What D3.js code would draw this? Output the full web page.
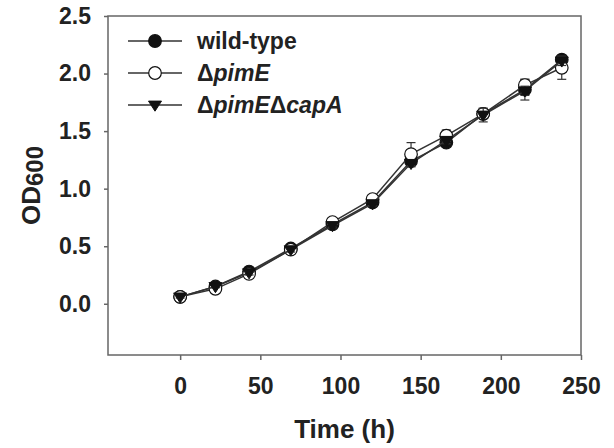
<!DOCTYPE html>
<html>
<head>
<meta charset="utf-8">
<script src="https://cdn.jsdelivr.net/npm/d3@7"></script>
<style>
  body { margin: 0; background: #fff; }
  text { font-family: "Liberation Sans", Arial, sans-serif; font-weight: bold; fill: #222; }
</style>
</head>
<body>
<script>
// growth curve values
var times = [0, 22, 43, 69, 95, 120, 144, 166, 189, 215, 238];
var wildType = [0.06, 0.15, 0.28, 0.48, 0.69, 0.88, 1.24, 1.40, 1.65, 1.86, 2.12];
var wildTypeErr = [0.01, 0.01, 0.02, 0.02, 0.02, 0.02, 0.03, 0.03, 0.04, 0.09, 0.04];
var pimE = [0.06, 0.13, 0.26, 0.47, 0.71, 0.91, 1.30, 1.46, 1.65, 1.90, 2.05];
var pimEErr = [0.01, 0.01, 0.02, 0.02, 0.02, 0.02, 0.10, 0.05, 0.04, 0.05, 0.10];
var pimECapA = [0.06, 0.15, 0.27, 0.47, 0.68, 0.87, 1.22, 1.42, 1.64, 1.85, 2.11];
var pimECapAErr = [0.01, 0.01, 0.02, 0.02, 0.02, 0.02, 0.03, 0.03, 0.06, 0.04, 0.04];
var xTicks = [0, 50, 100, 150, 200, 250];
var yTicks = [0, 0.5, 1.0, 1.5, 2.0, 2.5];

var series = [
  { name: "wild-type", vals: wildType, err: wildTypeErr, marker: "filled" },
  { name: "pimE", vals: pimE, err: pimEErr, marker: "open" },
  { name: "pimECapA", vals: pimECapA, err: pimECapAErr, marker: "triangle" }
];

var width = 614, height = 448;
var mLeft = 108, mRight = 581, mTop = 16, mBottom = 355;

var svg = d3.select("body").append("svg")
  .attr("width", width)
  .attr("height", height);

var x = d3.scaleLinear().domain([-45, 250]).range([mLeft, mRight]);
var y = d3.scaleLinear().domain([-0.445, 2.5]).range([mBottom, mTop]);

var axisColor = "#666";

// frame
svg.append("rect")
  .attr("x", mLeft).attr("y", mTop)
  .attr("width", mRight - mLeft).attr("height", mBottom - mTop)
  .attr("fill", "none")
  .attr("stroke", axisColor)
  .attr("stroke-width", 1.5);

// axes
var xAxis = svg.append("g")
  .attr("transform", "translate(0," + mBottom + ")")
  .call(d3.axisBottom(x).tickValues(xTicks).tickSize(5).tickPadding(18).tickFormat(d3.format("d")));
var yAxis = svg.append("g")
  .attr("transform", "translate(" + mLeft + ",0)")
  .call(d3.axisLeft(y).tickValues(yTicks).tickSize(4).tickPadding(13).tickFormat(d3.format(".1f")));

[xAxis, yAxis].forEach(function(a) {
  a.select(".domain").remove();
  a.selectAll(".tick line").attr("stroke", axisColor).attr("stroke-width", 1.5);
  a.selectAll(".tick text")
    .attr("font-family", "Liberation Sans, Arial, sans-serif")
    .attr("font-weight", "bold")
    .attr("font-size", 23)
    .attr("fill", "#222");
});

// axis titles
svg.append("text")
  .attr("x", (mLeft + mRight) / 2)
  .attr("y", 438)
  .attr("text-anchor", "middle")
  .attr("font-size", 26)
  .text("Time (h)");

var yTitle = svg.append("text")
  .attr("transform", "translate(40," + ((mTop + mBottom) / 2) + ") rotate(-90)")
  .attr("text-anchor", "middle")
  .attr("font-size", 26);
yTitle.append("tspan").text("OD");
yTitle.append("tspan").attr("font-size", 24).attr("dy", 3).text("600");

// marker drawing
function drawMarker(g, type, cx, cy) {
  if (type === "triangle") {
    var s = 6.5;
    g.append("path")
      .attr("d", "M" + (cx - s) + "," + (cy - s * 0.6) + "L" + (cx + s) + "," + (cy - s * 0.6) + "L" + cx + "," + (cy + s * 0.95) + "Z")
      .attr("fill", "#111")
      .attr("stroke", "#111")
      .attr("stroke-width", 1);
  } else {
    g.append("circle")
      .attr("cx", cx).attr("cy", cy).attr("r", 6.3)
      .attr("fill", type === "filled" ? "#111" : "#fff")
      .attr("stroke", "#111")
      .attr("stroke-width", 1.2);
  }
}

var line = d3.line()
  .x(function(d) { return x(d.t); })
  .y(function(d) { return y(d.v); });

series.forEach(function(s) {
  var pts = times.map(function(t, i) { return { t: t, v: s.vals[i], e: s.err[i] }; });
  var g = svg.append("g");

  // error bars
  pts.forEach(function(d) {
    var x0 = x(d.t);
    g.append("line")
      .attr("x1", x0).attr("x2", x0)
      .attr("y1", y(d.v - d.e)).attr("y2", y(d.v + d.e))
      .attr("stroke", "#333").attr("stroke-width", 1.2);
    [d.v - d.e, d.v + d.e].forEach(function(v) {
      g.append("line")
        .attr("x1", x0 - 4.5).attr("x2", x0 + 4.5)
        .attr("y1", y(v)).attr("y2", y(v))
        .attr("stroke", "#333").attr("stroke-width", 1.2);
    });
  });

  g.append("path")
    .datum(pts)
    .attr("d", line)
    .attr("fill", "none")
    .attr("stroke", "#333")
    .attr("stroke-width", 1.5);

  pts.forEach(function(d) { drawMarker(g, s.marker, x(d.t), y(d.v)); });
});

// legend
var legendY = [41, 73, 105];
var legend = svg.append("g");
series.forEach(function(s, i) {
  var ly = legendY[i];
  legend.append("line")
    .attr("x1", 128).attr("x2", 182)
    .attr("y1", ly).attr("y2", ly)
    .attr("stroke", "#333").attr("stroke-width", 1.5);
  drawMarker(legend, s.marker, 155, ly);
});

var lt = legend.append("g").attr("font-size", 23);
lt.append("text").attr("x", 197).attr("y", legendY[0] + 8).text("wild-type");

var t2 = lt.append("text").attr("x", 197).attr("y", legendY[1] + 8);
t2.append("tspan").text("\u0394");
t2.append("tspan").attr("font-style", "italic").text("pimE");

var t3 = lt.append("text").attr("x", 197).attr("y", legendY[2] + 8);
t3.append("tspan").text("\u0394");
t3.append("tspan").attr("font-style", "italic").text("pimE");
t3.append("tspan").text("\u0394");
t3.append("tspan").attr("font-style", "italic").text("capA");
</script>
</body>
</html>
